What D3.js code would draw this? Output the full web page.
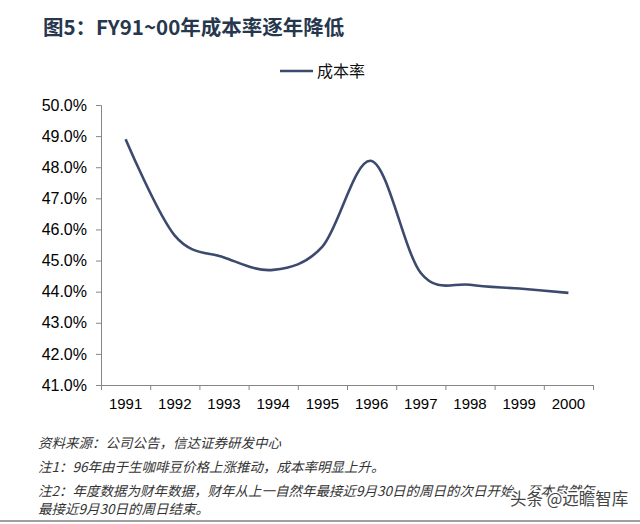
<!DOCTYPE html>
<html>
<head>
<meta charset="utf-8">
<script src="https://cdn.jsdelivr.net/npm/d3@7/dist/d3.min.js"></script>
<style>
  html, body { margin: 0; padding: 0; background: #fff; }
  svg { display: block; }
</style>
</head>
<body>
<div class="chart-container"></div>
<script>
'use strict';

// data
var years = ['1991', '1992', '1993', '1994', '1995', '1996', '1997', '1998', '1999', '2000'];
var costRate = [48.9, 45.8, 45.1, 44.7, 45.45, 48.2, 44.6, 44.22, 44.1, 43.96];
var yTicks = [41, 42, 43, 44, 45, 46, 47, 48, 49, 50];
var notes = [
  '资料来源：公司公告，信达证券研发中心',
  '注1：96年由于生咖啡豆价格上涨推动，成本率明显上升。',
  '注2：年度数据为财年数据，财年从上一自然年最接近9月30日的周日的次日开始，至本自然年',
  '最接近9月30日的周日结束。'
];

var width = 640, height = 524;
var plot = { left: 101, right: 593, top: 105, bottom: 385 };
var cjk = '"Noto Sans CJK SC", "Noto Sans", sans-serif';
var latin = '"Liberation Sans", Arial, sans-serif';

var svg = d3.select('.chart-container').append('svg')
  .attr('width', width)
  .attr('height', height);

// title
svg.append('text')
  .attr('x', 43)
  .attr('y', 35)
  .style('font-family', cjk)
  .style('font-weight', 'bold')
  .style('font-size', '20.5px')
  .style('fill', '#26374e')
  .text('图5：FY91~00年成本率逐年降低');

// legend
svg.append('line')
  .attr('x1', 280).attr('x2', 313)
  .attr('y1', 71).attr('y2', 71)
  .style('stroke', '#3b4a6e')
  .style('stroke-width', 2.5);
svg.append('text')
  .attr('x', 317)
  .attr('y', 77)
  .style('font-family', cjk)
  .style('font-size', '16px')
  .style('fill', '#111')
  .text('成本率');

var x = d3.scaleBand().domain(years).range([plot.left, plot.right]).padding(0);
var xEdge = d3.scaleLinear().domain([0, years.length]).range([plot.left, plot.right]);
var y = d3.scaleLinear().domain([41, 50]).range([plot.bottom, plot.top]);

// y axis
var yAxis = svg.append('g')
  .attr('transform', 'translate(' + plot.left + ',0)')
  .call(d3.axisLeft(y).tickValues(yTicks).tickSize(5).tickPadding(9)
    .tickFormat(function (d) { return d.toFixed(1) + '%'; }));
yAxis.selectAll('path, line').style('stroke', '#868686');
yAxis.selectAll('text')
  .style('font-family', latin)
  .style('font-size', '16px')
  .style('fill', '#000');

// x axis: boundary ticks
var xTicks = svg.append('g')
  .attr('transform', 'translate(0,' + plot.bottom + ')')
  .call(d3.axisBottom(xEdge).ticks(years.length).tickSize(5).tickSizeOuter(0)
    .tickFormat(''));
xTicks.selectAll('path, line').style('stroke', '#868686');

// x axis: labels at band centres
var xAxis = svg.append('g')
  .attr('transform', 'translate(0,' + plot.bottom + ')')
  .call(d3.axisBottom(x).tickSize(0).tickPadding(13));
xAxis.select('.domain').remove();
xAxis.selectAll('text')
  .style('font-family', latin)
  .style('font-size', '15px')
  .style('fill', '#000');

// line
var line = d3.line()
  .x(function (d, i) { return x(years[i]) + x.bandwidth() / 2; })
  .y(function (d) { return y(d); })
  .curve(d3.curveCatmullRom.alpha(0));

svg.append('path')
  .datum(costRate)
  .attr('d', line)
  .style('fill', 'none')
  .style('stroke', '#3b4a6e')
  .style('stroke-width', 2.6);

// notes
var noteY = [448, 472, 496, 514];
svg.selectAll('.note')
  .data(notes)
  .enter()
  .append('text')
  .attr('class', 'note')
  .attr('x', 38)
  .attr('y', function (d, i) { return noteY[i]; })
  .style('font-family', cjk)
  .style('font-style', 'italic')
  .style('font-size', '13.5px')
  .style('fill', '#333')
  .text(function (d) { return d; });

// watermark
svg.append('text')
  .attr('x', 510)
  .attr('y', 505)
  .style('font-family', cjk)
  .style('font-size', '16.5px')
  .style('fill', '#444')
  .style('stroke', '#fff')
  .style('stroke-width', 3)
  .style('paint-order', 'stroke')
  .text('头条 @远瞻智库');

// bottom rule
svg.append('line')
  .attr('x1', 0).attr('x2', width)
  .attr('y1', 521).attr('y2', 521)
  .style('stroke', '#a0a0a0')
  .style('stroke-width', 2);
</script>
</body>
</html>
